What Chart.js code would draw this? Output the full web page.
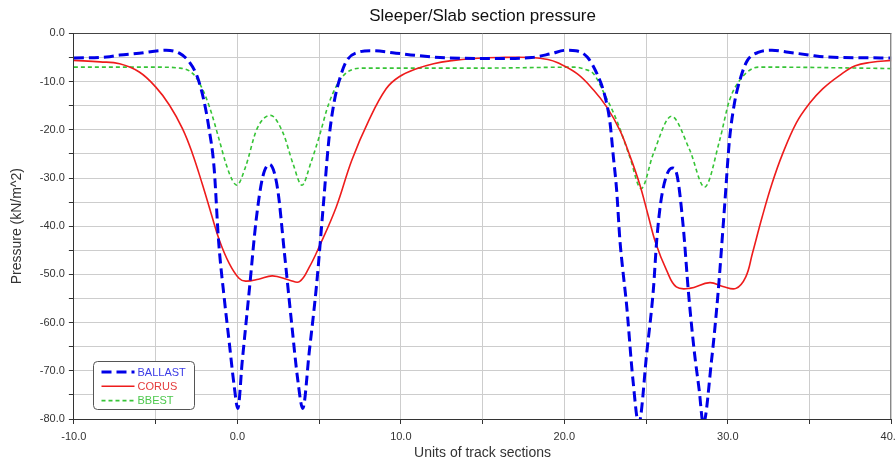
<!DOCTYPE html>
<html>
<head>
<meta charset="utf-8">
<script src="https://cdn.jsdelivr.net/npm/chart.js@4"></script>
<style>
  html, body { margin: 0; padding: 0; background: #fff; overflow: hidden; }
  #wrap { width: 895px; height: 462px; overflow: hidden; }
</style>
</head>
<body>
<div id="wrap"><canvas id="pressureChart" width="908" height="462" style="width:908px;height:462px"></canvas></div>
<script>
// values
const ballastX = [-10, -8, -7.2, -6, -4.35, -3.55, -2.95, -2.45, -2.05, -1.75, -1.42, -1.15, -0.8, -0.5, -0.2, 0.03, 0.3, 0.75, 1.15, 1.55, 1.97, 2.45, 2.88, 3.3, 3.7, 4.0, 4.4, 4.85, 5.25, 5.6, 5.9, 6.3, 6.7, 7.4, 8.2, 9.5, 11, 13, 16, 18, 19.2, 20.1, 20.7, 21.4, 22.0, 22.5, 22.8, 23.0, 23.2, 23.4, 23.6, 23.8, 24.2, 24.55, 25.05, 25.45, 25.65, 25.9, 26.25, 26.6, 26.9, 27.27, 27.6, 27.95, 28.25, 28.5, 29.0, 29.4, 29.8, 30.1, 30.4, 30.8, 31.2, 31.9, 32.7, 33.7, 35, 36, 40];
const ballastY = [-5.1, -4.9, -4.5, -4.1, -3.5, -4.1, -5.9, -9.0, -13.9, -19.4, -28, -43, -55, -64, -73, -77.8, -68, -52.6, -38.7, -29.8, -27.2, -32, -45.6, -59.5, -72, -77.8, -66, -52, -36, -22, -14.6, -9, -5.6, -3.9, -3.6, -4.0, -4.6, -5.1, -5.2, -5.0, -4.2, -3.5, -3.6, -4.9, -8.4, -13.2, -18.7, -25.6, -32.5, -42.9, -49.8, -56, -72, -81, -66, -53, -43, -35, -29.5, -27.9, -29.5, -40, -54, -66, -74, -81, -68, -54, -36, -22.2, -14.6, -9, -5.6, -3.9, -3.5, -3.9, -4.5, -4.9, -5.1];

const corusX = [-10, -8.4, -7.2, -6.0, -5.0, -4.15, -3.35, -2.75, -2.15, -1.6, -1.1, -0.5, 0.1, 0.5, 1.3, 2.15, 3.2, 3.8, 4.4, 5.0, 6.05, 7.0, 8.05, 9.1, 9.9, 11, 12, 13, 14.5, 16, 18, 19, 19.6, 20.8, 21.8, 22.6, 23.4, 24.0, 24.6, 25.1, 25.6, 26.25, 26.85, 27.66, 28.9, 29.7, 30.5, 31.1, 31.5, 32.1, 32.7, 33.35, 34.2, 35.0, 35.8, 36.8, 37.8, 38.8, 40];
const corusY = [-5.6, -5.9, -6.3, -8.0, -11.1, -14.9, -19.8, -24.9, -31.2, -37.4, -42.9, -47.7, -50.8, -51.4, -51.0, -50.3, -51.2, -51.5, -48.5, -44.3, -36, -26.3, -18, -11.5, -9.0, -7.3, -6.3, -5.7, -5.2, -5.0, -5.0, -5.4, -6.1, -8.4, -11.8, -15.3, -20.1, -25.3, -31.2, -37.4, -43.6, -49.1, -52.6, -52.9, -51.7, -52.5, -52.9, -50.5, -45.7, -38.1, -31.2, -25.0, -18.5, -14.5, -11.5, -8.8, -6.7, -6.0, -5.6];

const bbestX = [-10, -5, -3.5, -2.7, -2.2, -1.7, -1.1, -0.7, -0.3, -0.03, 0.5, 1.2, 2.03, 2.8, 3.4, 3.95, 4.5, 5.0, 5.6, 6.4, 7.6, 10, 15, 20.6, 21.3, 21.8, 22.4, 23.2, 24.0, 24.7, 25.45, 26.55, 27.67, 28.58, 29.5, 30.1, 30.9, 31.9, 33, 36, 40];
const bbestY = [-7.0, -7.0, -7.2, -8.4, -11.1, -15.3, -22.2, -27, -30.5, -31.5, -27.7, -19.8, -17, -20.7, -27, -31.5, -26.8, -21.5, -14.5, -9.1, -7.2, -7.2, -7.2, -7.0, -7.5, -8.4, -12.2, -18, -25.6, -32.2, -24.9, -17.2, -24.2, -31.9, -22.2, -13.9, -9, -7, -7.0, -7.1, -7.3];

const seriesNames = ['BALLAST', 'CORUS', 'BBEST'];
const labelColors = ['#3c3ce6', '#e43c3c', '#4cc84c'];

const toPoints = (xs, ys) => xs.map((x, i) => ({ x: x, y: ys[i] }));

function tickText(v) {
  return v % 10 === 0 ? v.toFixed(1) : '';
}

// plot frame (top/right) and the boxed legend inside the plot
const frameAndLegend = {
  id: 'frameAndLegend',
  afterDatasetsDraw(chart) {
    const { ctx, chartArea: a } = chart;
    ctx.save();
    ctx.lineWidth = 1;
    ctx.strokeStyle = '#444';
    ctx.beginPath();
    ctx.moveTo(a.left, Math.round(a.top) + 0.5);
    ctx.lineTo(a.right, Math.round(a.top) + 0.5);
    ctx.stroke();
    ctx.strokeStyle = '#888';
    ctx.beginPath();
    ctx.moveTo(Math.round(a.right) - 0.5, a.top);
    ctx.lineTo(Math.round(a.right) - 0.5, a.bottom);
    ctx.stroke();

    const bx = Math.round(a.left) + 19.5, by = Math.round(a.top) + 328.5;
    const bw = 101, bh = 48;
    ctx.fillStyle = '#fff';
    ctx.strokeStyle = '#555';
    ctx.beginPath();
    ctx.roundRect(bx, by, bw, bh, 4);
    ctx.fill();
    ctx.stroke();

    ctx.font = '11px "Liberation Sans", Arial, sans-serif';
    ctx.textBaseline = 'middle';
    chart.data.datasets.forEach((ds, i) => {
      const yy = by + 10.5 + i * 14.3;
      ctx.strokeStyle = ds.borderColor;
      ctx.lineWidth = ds.borderWidth;
      ctx.setLineDash(ds.borderDash || []);
      ctx.beginPath();
      ctx.moveTo(bx + 8, yy);
      ctx.lineTo(bx + 41, yy);
      ctx.stroke();
      ctx.setLineDash([]);
      ctx.fillStyle = labelColors[i];
      ctx.fillText(ds.label, bx + 44, yy + 0.5);
    });
    ctx.restore();
  }
};

const ctx = document.getElementById('pressureChart').getContext('2d');
const pressureChart = new Chart(ctx, {
  type: 'line',
  data: {
    datasets: [{
      label: seriesNames[0],
      data: toPoints(ballastX, ballastY),
      borderColor: '#0000e8',
      borderWidth: 3,
      borderDash: [10, 5],
      cubicInterpolationMode: 'monotone'
    }, {
      label: seriesNames[1],
      data: toPoints(corusX, corusY),
      borderColor: '#ee1c1c',
      borderWidth: 1.6,
      tension: 0.4
    }, {
      label: seriesNames[2],
      data: toPoints(bbestX, bbestY),
      borderColor: '#36c436',
      borderWidth: 1.6,
      borderDash: [4, 3],
      cubicInterpolationMode: 'monotone'
    }]
  },
  options: {
    responsive: false,
    animation: false,
    devicePixelRatio: 1,
    elements: {
      point: { radius: 0 }
    },
    layout: { padding: { left: 9, right: 0, top: 0, bottom: 0 } },
    plugins: {
      legend: { display: false },
      tooltip: { enabled: false },
      title: {
        display: true,
        fullSize: false,
        text: 'Sleeper/Slab section pressure',
        color: '#111',
        font: { family: '"Liberation Sans", Arial, sans-serif', size: 17, weight: 'normal' },
        padding: { top: 6, bottom: 7 }
      }
    },
    scales: {
      x: {
        type: 'linear',
        min: -10,
        max: 40,
        ticks: {
          stepSize: 5,
          autoSkip: false,
          maxRotation: 0,
          padding: 6,
          color: '#333',
          font: { family: '"Liberation Sans", Arial, sans-serif', size: 11 },
          callback: tickText
        },
        grid: { color: '#cdcdcd', tickColor: '#333', tickLength: 5 },
        border: { display: true, color: '#333', width: 1 },
        title: {
          display: true,
          text: 'Units of track sections',
          color: '#333',
          font: { family: '"Liberation Sans", Arial, sans-serif', size: 14 },
          padding: { top: -4, bottom: 0 }
        }
      },
      y: {
        type: 'linear',
        min: -80,
        max: 0,
        ticks: {
          stepSize: 5,
          autoSkip: false,
          padding: 4,
          color: '#333',
          font: { family: '"Liberation Sans", Arial, sans-serif', size: 11 },
          callback: tickText
        },
        grid: { color: '#cdcdcd', tickColor: '#333', tickLength: 5 },
        border: { display: true, color: '#333', width: 1 },
        title: {
          display: true,
          text: 'Pressure (kN/m^2)',
          color: '#333',
          font: { family: '"Liberation Sans", Arial, sans-serif', size: 14 },
          padding: { top: 0, bottom: 10 }
        }
      }
    }
  },
  plugins: [frameAndLegend]
});
</script>
</body>
</html>
